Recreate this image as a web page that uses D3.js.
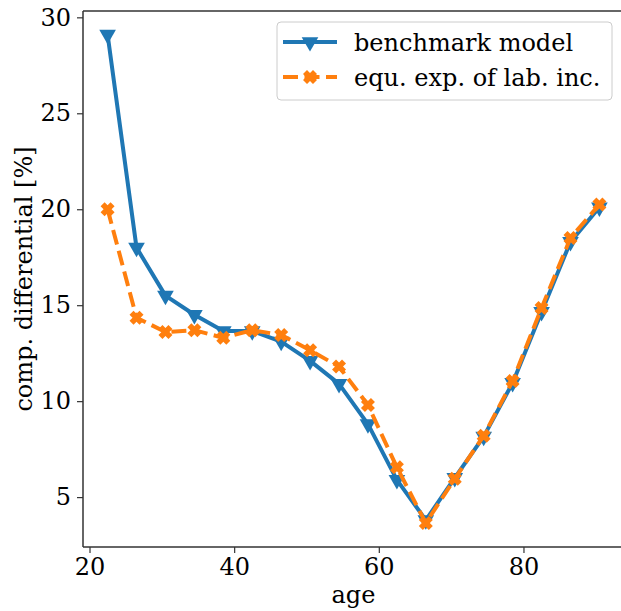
<!DOCTYPE html>
<html>
<head>
<meta charset="utf-8">
<script src="https://cdn.jsdelivr.net/npm/d3@7"></script>
<style>
  body { margin: 0; background: #fff; }
  text { font-family: "DejaVu Serif", serif; fill: #000; }
</style>
</head>
<body>
<svg id="chart" width="621" height="611"></svg>
<script>
// ages (midpoints of 4-year groups)
var ages = [22.5, 26.5, 30.5, 34.5, 38.5, 42.5, 46.5, 50.5, 54.5, 58.5, 62.5, 66.5, 70.5, 74.5, 78.5, 82.5, 86.5, 90.5];
var benchmark = [29.1, 18.0, 15.5, 14.5, 13.65, 13.65, 13.1, 12.1, 10.9, 8.8, 5.9, 3.8, 6.0, 8.15, 10.95, 14.65, 18.3, 20.1];
var equExp = [20.0, 14.35, 13.6, 13.7, 13.3, 13.7, 13.45, 12.65, 11.8, 9.8, 6.55, 3.65, 5.95, 8.2, 11.05, 14.85, 18.5, 20.25];
var xTicks = [20, 40, 60, 80];
var yTicks = [5, 10, 15, 20, 25, 30];
var seriesNames = ["benchmark model", "equ. exp. of lab. inc."];

function drawChart() {
  var svg = d3.select("#chart");
  var left = 83, right = 624, top = 11, bottom = 547;
  var fs = "24px";

  var x = d3.scaleLinear().domain([19.1, 93.9]).range([left, right]);
  var y = d3.scaleLinear().domain([2.4, 30.33]).range([bottom, top]);

  // axes
  var xAxis = d3.axisBottom(x).tickValues(xTicks).tickSize(6).tickPadding(5);
  var gx = svg.append("g")
    .attr("transform", "translate(0," + bottom + ")")
    .call(xAxis);
  var yAxis = d3.axisLeft(y).tickValues(yTicks).tickSize(6).tickPadding(6);
  var gy = svg.append("g")
    .attr("transform", "translate(" + left + ",0)")
    .call(yAxis);
  [gx, gy].forEach(function(g) {
    g.select(".domain").remove();
    g.selectAll(".tick line").attr("stroke", "#333").attr("stroke-width", 1.2);
    g.selectAll(".tick text")
      .style("font-family", "DejaVu Serif")
      .style("font-size", fs)
      .attr("fill", "#000");
  });

  // spines
  svg.append("line").attr("x1", left).attr("x2", left).attr("y1", top).attr("y2", bottom)
    .attr("stroke", "#333").attr("stroke-width", 1.5);
  svg.append("line").attr("x1", left).attr("x2", 621).attr("y1", bottom).attr("y2", bottom)
    .attr("stroke", "#333").attr("stroke-width", 1.5);
  svg.append("line").attr("x1", left).attr("x2", 621).attr("y1", top).attr("y2", top)
    .attr("stroke", "#333").attr("stroke-width", 1.5);

  // axis labels
  svg.append("text")
    .attr("x", (left + right) / 2)
    .attr("y", 603)
    .attr("text-anchor", "middle")
    .style("font-size", fs)
    .text("age");
  svg.append("text")
    .attr("transform", "translate(32," + ((top + bottom) / 2) + ") rotate(-90)")
    .attr("text-anchor", "middle")
    .style("font-size", fs)
    .text("comp. differential [%]");

  var line = d3.line()
    .x(function(d) { return x(d[0]); })
    .y(function(d) { return y(d[1]); });

  var blue = "#1f77b4", orange = "#ff7f0e";
  var triDown = d3.symbol().type(d3.symbolTriangle).size(120);
  var crossPath = "M-3,-7 L0,-4 L3,-7 L7,-3 L4,0 L7,3 L3,7 L0,4 L-3,7 L-7,3 L-4,0 L-7,-3 Z";

  var plot = svg.append("g");

  // benchmark
  var bData = ages.map(function(a, i) { return [a, benchmark[i]]; });
  plot.append("path").datum(bData)
    .attr("d", line)
    .attr("fill", "none").attr("stroke", blue).attr("stroke-width", 4)
    .attr("stroke-linejoin", "round");
  plot.selectAll(".bm").data(bData).enter().append("path")
    .attr("class", "bm")
    .attr("d", triDown)
    .attr("transform", function(d) { return "translate(" + x(d[0]) + "," + y(d[1]) + ") rotate(180)"; })
    .attr("fill", blue);

  // equ exp
  var eData = ages.map(function(a, i) { return [a, equExp[i]]; });
  plot.append("path").datum(eData)
    .attr("d", line)
    .attr("fill", "none").attr("stroke", orange).attr("stroke-width", 4)
    .attr("stroke-dasharray", "15,6.5");
  plot.selectAll(".ee").data(eData).enter().append("path")
    .attr("class", "ee")
    .attr("d", crossPath)
    .attr("transform", function(d) { return "translate(" + x(d[0]) + "," + y(d[1]) + ")"; })
    .attr("fill", orange);

  // legend
  var lg = svg.append("g").attr("transform", "translate(277,22)");
  lg.append("rect")
    .attr("width", 335).attr("height", 78).attr("rx", 4)
    .attr("fill", "#fff").attr("fill-opacity", 0.8)
    .attr("stroke", "#ccc").attr("stroke-width", 1);
  var items = [
    { name: seriesNames[0], color: blue, dash: null, marker: "tri" },
    { name: seriesNames[1], color: orange, dash: "15,6.5", marker: "x" }
  ];
  items.forEach(function(it, i) {
    var yy = 20 + i * 35;
    lg.append("line")
      .attr("x1", 6).attr("x2", 60).attr("y1", yy).attr("y2", yy)
      .attr("stroke", it.color).attr("stroke-width", 4)
      .attr("stroke-dasharray", it.dash);
    if (it.marker === "tri") {
      lg.append("path").attr("d", triDown)
        .attr("transform", "translate(33," + yy + ") rotate(180)")
        .attr("fill", it.color);
    } else {
      lg.append("path").attr("d", crossPath)
        .attr("transform", "translate(33," + yy + ")")
        .attr("fill", it.color);
    }
    lg.append("text")
      .attr("x", 77).attr("y", yy + 9)
      .style("font-size", fs)
      .text(it.name);
  });
}

drawChart();
</script>
</body>
</html>
